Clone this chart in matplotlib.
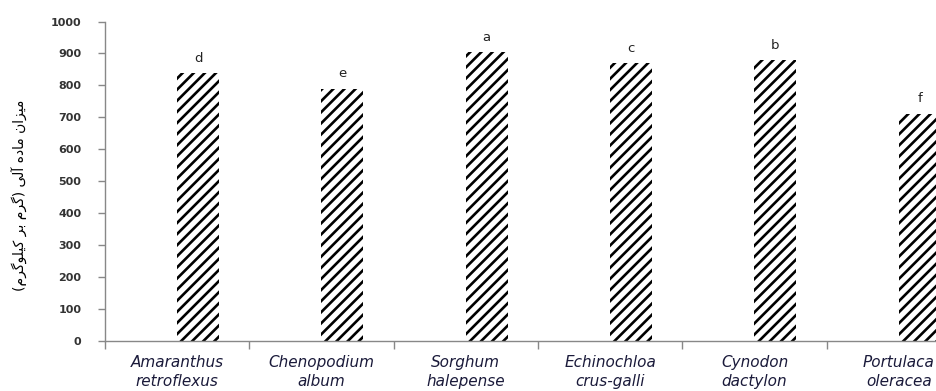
import matplotlib
matplotlib.use("Agg")
import matplotlib.pyplot as plt
import numpy as np

# Weed species (two-line italic tick labels)
species = [
    "Amaranthus\nretroflexus",
    "Chenopodium\nalbum",
    "Sorghum\nhalepense",
    "Echinochloa\ncrus-galli",
    "Cynodon\ndactylon",
    "Portulaca\noleracea",
]
# Organic matter content (g/kg)
organic_matter = [840, 790, 905, 870, 880, 712]
# Duncan grouping letters
groups = ["d", "e", "a", "c", "b", "f"]

y_ticks = list(range(0, 1001, 100))

# Persian axis title, written with Arabic presentation forms in logical order
title_logical = (
    "\uFEE3\uFBFF\uFEB0\uFE8D\uFEE5 "          # میزان
    "\uFEE3\uFE8E\uFEA9\uFEE9 "                # ماده
    "\uFE81\uFEDF\uFBFD "                      # آلی
    "(\uFB94\uFEAE\uFEE1 "                     # (گرم
    "\uFE91\uFEAE "                            # بر
    "\uFB90\uFBFF\uFEE0\uFEEE\uFB94\uFEAE\uFEE1)"  # کیلوگرم)
)


def to_visual(text):
    """Reverse an RTL string for left-to-right drawing and mirror brackets."""
    mirror = {"(": ")", ")": "("}
    return "".join(mirror.get(c, c) for c in reversed(text))


plt.rcParams["hatch.linewidth"] = 1.9

fig = plt.figure(figsize=(9.37, 3.91), dpi=100)
# The axes run past the right edge of the canvas
ax = fig.add_axes([105 / 937, 50 / 391, 866 / 937, 319.5 / 391])

x = np.arange(len(species))
bar_w = 0.29
offset = 0.145
bars = ax.bar(x + offset, organic_matter, width=bar_w, facecolor="white",
              edgecolor="black", linewidth=0, hatch="///")

for xi, v, g in zip(x, organic_matter, groups):
    ax.annotate(g, (xi + offset, v), xytext=(0, 8), textcoords="offset points",
                ha="center", va="baseline", fontsize=9.5, color="#222222",
                family="DejaVu Sans")

ax.set_xlim(-0.5, len(species) - 0.5)
ax.set_ylim(0, 1000)
ax.set_yticks(y_ticks)
ax.set_yticklabels([str(t) for t in y_ticks], fontsize=8, color="#333333",
                   family="DejaVu Sans", fontweight="bold")

# Category labels at the centres, tick marks at the boundaries
ax.set_xticks(x)
ax.set_xticklabels(species, fontsize=11, style="italic", color="#1a1a3a",
                   family="DejaVu Sans", linespacing=1.35)
ax.set_xticks(np.arange(-0.5, len(species) + 0.5, 1), minor=True)
ax.tick_params(axis="x", which="major", length=0, pad=10)
ax.tick_params(axis="x", which="minor", length=6, width=1, color="#888888",
               direction="out")
ax.tick_params(axis="y", which="major", length=5, width=1, color="#888888",
               direction="out", pad=12)

for side in ("top", "right"):
    ax.spines[side].set_visible(False)
for side in ("left", "bottom"):
    ax.spines[side].set_color("#888888")
    ax.spines[side].set_linewidth(1)

fig.text(20 / 937, 1 - 195 / 391, to_visual(title_logical), rotation=90,
         ha="center", va="center", fontsize=10, family="DejaVu Sans",
         color="black")

fig.savefig("out.png", dpi=100)
